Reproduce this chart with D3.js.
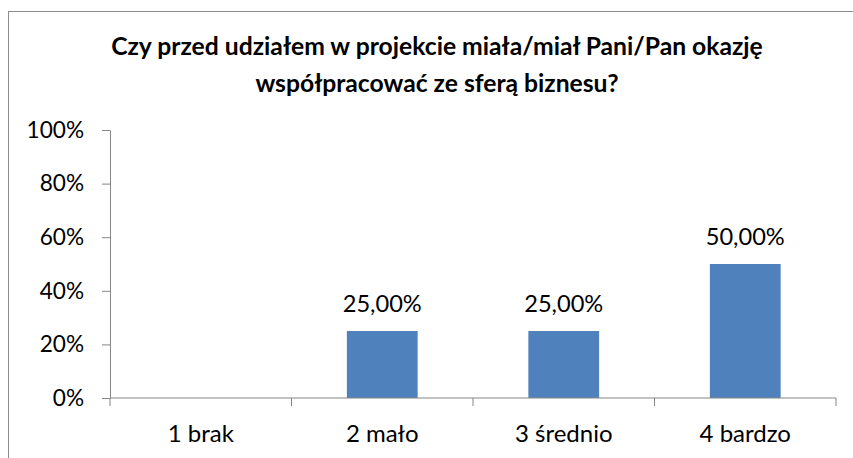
<!doctype html>
<html lang="pl">
<head>
<meta charset="utf-8">
<title>Współpraca ze sferą biznesu</title>
<script src="https://cdnjs.cloudflare.com/ajax/libs/d3/7.8.5/d3.min.js"></script>
<style>
  body { margin: 0; background: #fff; }
  svg { display: block; font-family: Lato, "Open Sans", sans-serif; }
</style>
</head>
<body>
<script>
// data
const categories = ["1 brak", "2 mało", "3 średnio", "4 bardzo"];
const values = [0, 0.25, 0.25, 0.5];
const yTicks = [0, 0.2, 0.4, 0.6, 0.8, 1];
const titleLines = ["Czy przed udziałem w projekcie miała/miał Pani/Pan okazję",
                    "współpracować ze sferą biznesu?"];

const width = 853, height = 458;
const plot = {left: 110, right: 836, top: 130, bottom: 398};

const svg = d3.select("body").append("svg")
    .attr("width", width)
    .attr("height", height);

// outer chart border (runs off the right and bottom edge)
svg.append("rect")
    .attr("x", 8.5).attr("y", 11.5)
    .attr("width", 900).attr("height", 500)
    .attr("fill", "none")
    .attr("stroke", "#8c8c8c")
    .attr("stroke-width", 1);

svg.append("text")
    .attr("text-anchor", "middle")
    .attr("font-weight", "bold")
    .attr("font-size", 24.7)
    .selectAll("tspan")
    .data(titleLines)
    .join("tspan")
    .attr("x", 437)
    .attr("y", (d, i) => 55 + i * 37)
    .text(d => d);

const x = d3.scaleBand()
    .domain(categories)
    .range([plot.left, plot.right])
    .paddingInner(0.61)
    .paddingOuter(0.305);

const y = d3.scaleLinear()
    .domain([0, 1])
    .range([plot.bottom, plot.top]);

// y axis
const yAxis = svg.append("g")
    .attr("transform", `translate(${plot.left},0)`)
    .call(d3.axisLeft(y).tickValues(yTicks).tickFormat(d3.format(".0%"))
        .tickSize(8).tickSizeOuter(0).tickPadding(18));
yAxis.selectAll("line, path").attr("stroke", "#868686");
yAxis.selectAll("text").attr("font-size", 22.6).attr("fill", "#000")
    .attr("font-family", "Lato, sans-serif");

// bars
const rows = categories.map((c, i) => ({cat: c, val: values[i]}));

svg.selectAll("rect.bar")
    .data(rows)
    .join("rect")
    .attr("class", "bar")
    .attr("x", d => x(d.cat))
    .attr("y", d => y(d.val))
    .attr("width", x.bandwidth())
    .attr("height", d => plot.bottom - y(d.val))
    .attr("fill", "#4f81bd");

// x axis with ticks between categories
const xAxis = svg.append("g")
    .attr("transform", `translate(0,${plot.bottom})`);
xAxis.append("line")
    .attr("x1", plot.left).attr("x2", plot.right)
    .attr("stroke", "#868686");
const step = x.step();
xAxis.selectAll("line.tick")
    .data(d3.range(categories.length + 1))
    .join("line")
    .attr("class", "tick")
    .attr("x1", i => plot.left + i * step)
    .attr("x2", i => plot.left + i * step)
    .attr("y1", 0).attr("y2", 8)
    .attr("stroke", "#868686");
xAxis.selectAll("text")
    .data(categories)
    .join("text")
    .attr("x", d => x(d) + x.bandwidth() / 2)
    .attr("y", 44)
    .attr("text-anchor", "middle")
    .attr("font-size", 24)
    .text(d => d);

// value labels
svg.selectAll("text.val")
    .data(rows.filter(d => d.val > 0))
    .join("text")
    .attr("class", "val")
    .attr("x", d => x(d.cat) + x.bandwidth() / 2)
    .attr("y", d => y(d.val) - 19)
    .attr("text-anchor", "middle")
    .attr("font-size", 23.6)
    .text(d => d3.format(".2f")(d.val * 100).replace(".", ",") + "%");
</script>
</body>
</html>
